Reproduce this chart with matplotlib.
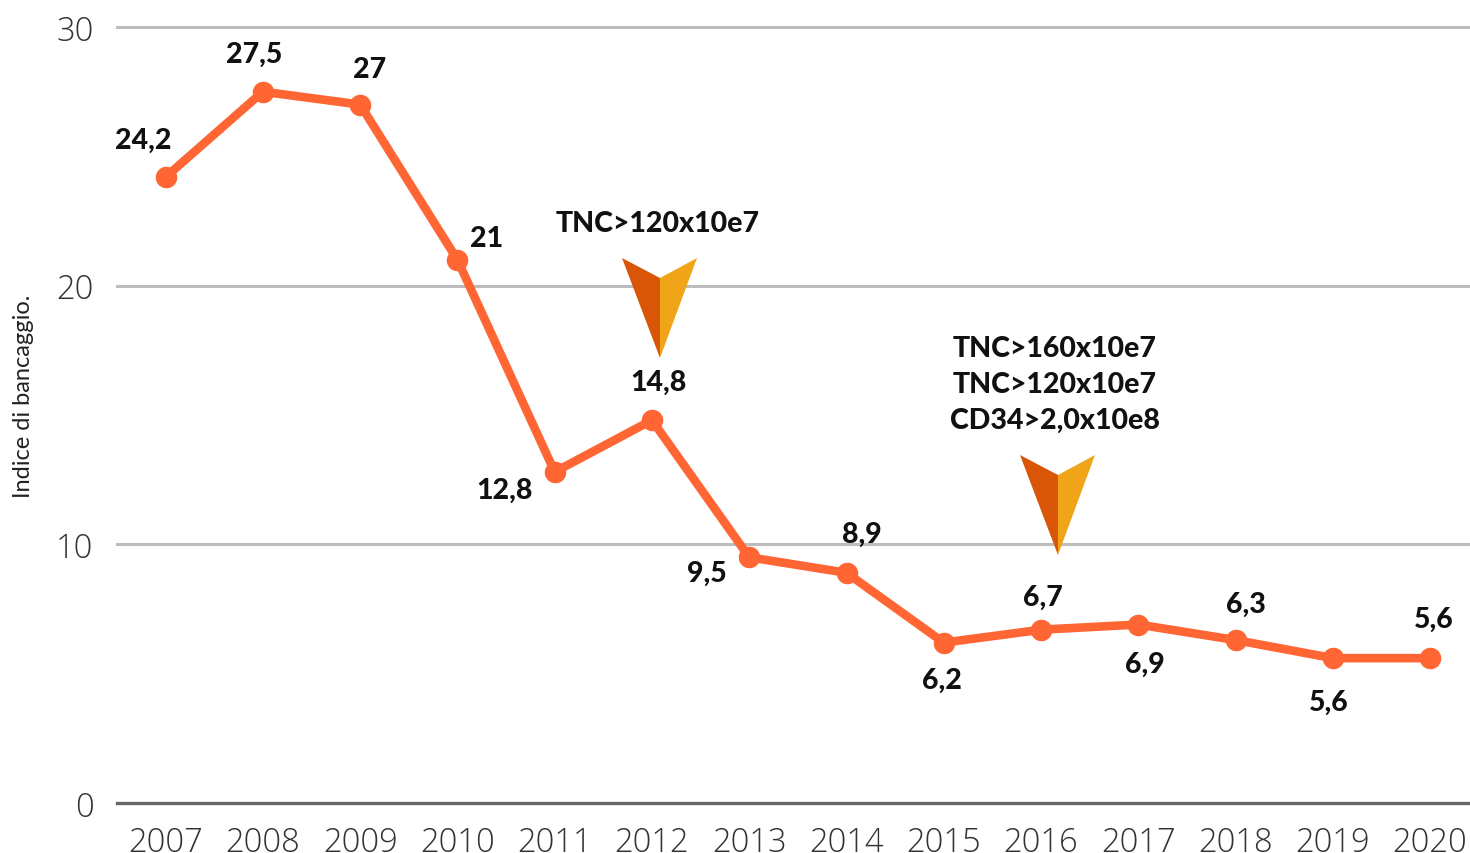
import matplotlib
matplotlib.use('Agg')
import matplotlib.pyplot as plt
from matplotlib.patches import Polygon

years = ['2007', '2008', '2009', '2010', '2011', '2012', '2013', '2014', '2015', '2016', '2017', '2018', '2019', '2020']
values = [24.2, 27.5, 27, 21, 12.8, 14.8, 9.5, 8.9, 6.2, 6.7, 6.9, 6.3, 5.6, 5.6]
labels = ['24,2', '27,5', '27', '21', '12,8', '14,8', '9,5', '8,9', '6,2', '6,7', '6,9', '6,3', '5,6', '5,6']
# label offsets from the point, in pixels
label_dx = [-22, -9, 9, 29, -50, 6, -42, 15, -2, 2, 7, 10, -4, 4]
label_dy = [38, 39, 37, 23, -17, 39, -15, 40, -36, 34, -38, 37, -43, 40]
yticks = [0, 10, 20, 30]

plt.rcParams['font.family'] = ['Lato', 'DejaVu Sans']

W, H = 1470, 854
fig = plt.figure(figsize=(W / 100, H / 100), dpi=100)
left, right, top, bottom = 117, 1470, 28, 804
ax = fig.add_axes([left / W, 1 - bottom / H, (right - left) / W, (bottom - top) / H])

x = list(range(len(years)))
ax.set_xlim(-0.5, 13.41)
ax.set_ylim(0, 30)

for t in yticks[1:]:
    ax.axhline(t, color='#bdbdbd', lw=2.2, zorder=1, clip_on=False)
ax.axhline(0, color='#666666', lw=2.4, zorder=1, clip_on=False)

ax.plot(x, values, color='#ff6633', lw=6.2, marker='o', ms=14.5, zorder=3, clip_on=False, solid_joinstyle='round')

for i in x:
    ax.annotate(labels[i], (x[i], values[i]), xytext=(label_dx[i] * 0.72, (label_dy[i] - 1) * 0.72),
                textcoords='offset points', ha='center', va='center',
                fontsize=20.5, fontweight='black', color='#111111', zorder=4)

ax.set_xticks(x)
ax.set_xticklabels(years)
ax.set_yticks(yticks)
ax.tick_params(axis='both', length=0, labelsize=23.5, labelcolor='#333333')
ax.tick_params(axis='x', pad=16)
ax.tick_params(axis='y', pad=17)
for lab in ax.get_xticklabels() + ax.get_yticklabels():
    lab.set_family(['Open Sans', 'DejaVu Sans'])
    lab.set_fontweight('light')
for s in ax.spines.values():
    s.set_visible(False)

fig.text(24 / W, 1 - 396 / H, 'Indice di bancaggio.', rotation=90, ha='center', va='center', fontsize=17, color='#222222')


def arrow(cx, tip_y):
    # two tone arrow head, in figure pixels
    to_fig = lambda px, py: (px / W, 1 - py / H)
    shape_l = [(cx - 38, tip_y - 100), (cx, tip_y - 80), (cx, tip_y)]
    shape_r = [(cx + 37, tip_y - 100), (cx, tip_y - 80), (cx, tip_y)]
    fig.add_artist(Polygon([to_fig(*p) for p in shape_l], closed=True, transform=fig.transFigure, fc='#d95507', ec='none', zorder=5))
    fig.add_artist(Polygon([to_fig(*p) for p in shape_r], closed=True, transform=fig.transFigure, fc='#f0a518', ec='none', zorder=5))


arrow(660, 359)
arrow(1058, 556)

fig.text(658 / W, 1 - 224 / H, 'TNC>120x10e7', ha='center', va='center', fontsize=20.5, fontweight='black', color='#111111')
for yy, s in zip([349, 385, 421], ['TNC>160x10e7', 'TNC>120x10e7', 'CD34>2,0x10e8']):
    fig.text(1055 / W, 1 - yy / H, s, ha='center', va='center', fontsize=20.5, fontweight='black', color='#111111')

fig.savefig('out.png', dpi=100)
